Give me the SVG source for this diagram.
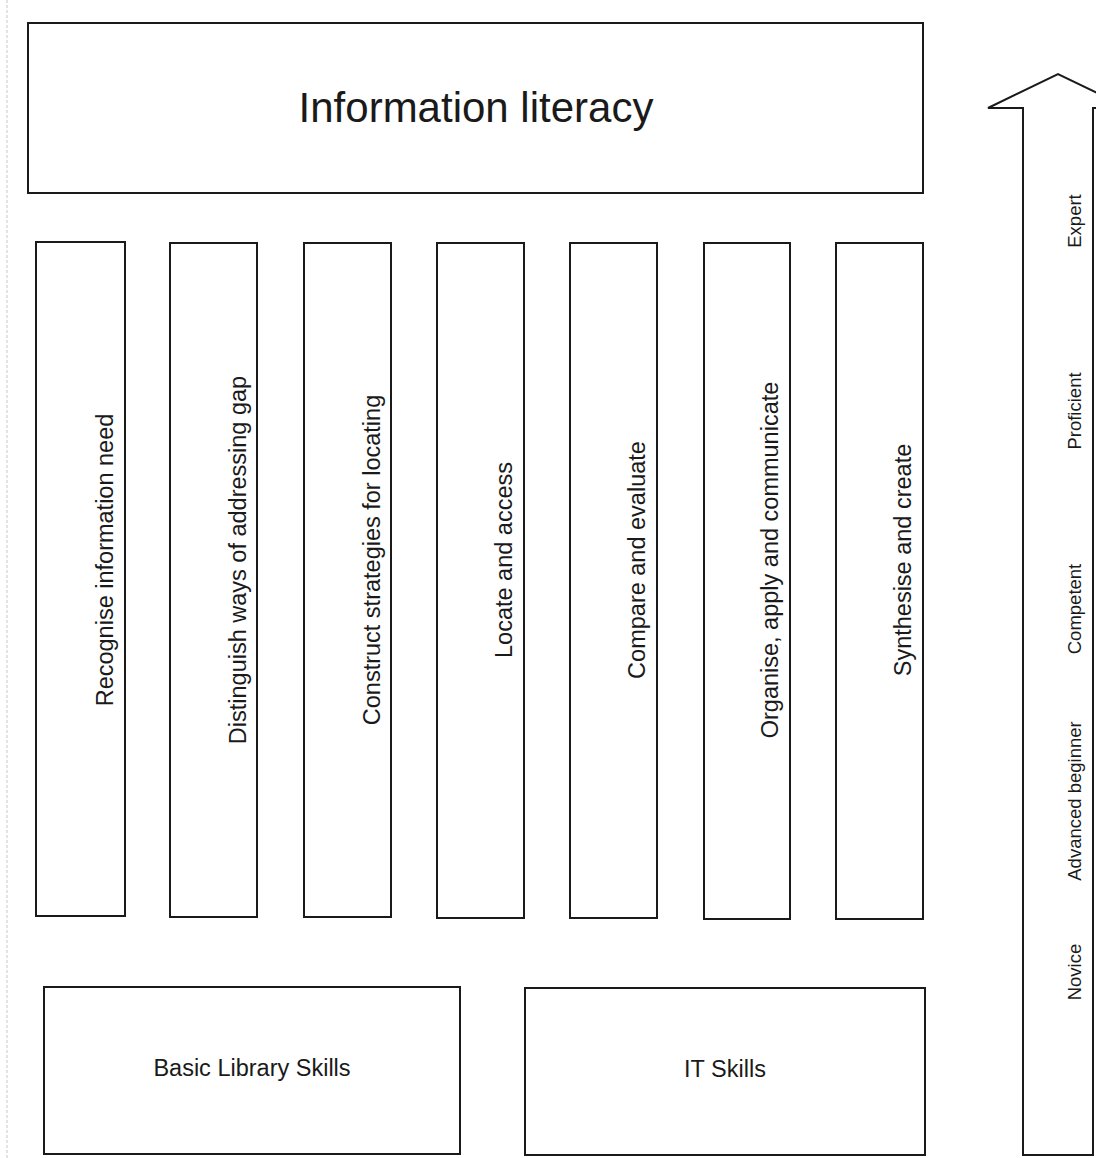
<svg xmlns="http://www.w3.org/2000/svg" width="1096" height="1158" viewBox="0 0 1096 1158">
<style>
.box{fill:#fff;stroke:#1a1a1a;stroke-width:2}
.t{font-family:"Liberation Sans",Arial,sans-serif;fill:#1a1a1a;text-anchor:middle}
.col{font-size:23.5px}
.lvl{font-size:18.5px}
</style>
<rect x="0" y="0" width="1096" height="1158" fill="#fff"/>
<line x1="7" y1="0" x2="7" y2="1158" stroke="#c8c8c8" stroke-width="1" stroke-dasharray="3,2"/>
<g id="information-literacy">
<rect class="box" x="28" y="23" width="895" height="170"/>
<text class="t" x="476" y="122" font-size="42">Information literacy</text>
</g>
<g id="col1"><rect class="box" x="36" y="242" width="89" height="674"/><text class="t col" transform="translate(113,560) rotate(-90)">Recognise information need</text></g>
<g id="col2"><rect class="box" x="170" y="243" width="87" height="674"/><text class="t col" transform="translate(246,560) rotate(-90)">Distinguish ways of addressing gap</text></g>
<g id="col3"><rect class="box" x="304" y="243" width="87" height="674"/><text class="t col" transform="translate(380,560) rotate(-90)">Construct strategies for locating</text></g>
<g id="col4"><rect class="box" x="437" y="243" width="87" height="675"/><text class="t col" transform="translate(512,560) rotate(-90)">Locate and access</text></g>
<g id="col5"><rect class="box" x="570" y="243" width="87" height="675"/><text class="t col" transform="translate(645,560) rotate(-90)">Compare and evaluate</text></g>
<g id="col6"><rect class="box" x="704" y="243" width="86" height="676"/><text class="t col" transform="translate(778,560) rotate(-90)">Organise, apply and communicate</text></g>
<g id="col7"><rect class="box" x="836" y="243" width="87" height="676"/><text class="t col" transform="translate(911,560) rotate(-90)">Synthesise and create</text></g>
<g id="basic-library-skills"><rect class="box" x="44" y="987" width="416" height="167"/><text class="t" x="252" y="1076" font-size="23.5">Basic Library Skills</text></g>
<g id="it-skills"><rect class="box" x="525" y="988" width="400" height="167"/><text class="t" x="725" y="1077" font-size="23.5">IT Skills</text></g>
<g id="connectors">
<path class="box" d="M988,108 L1058,74 L1128,108 L1093,108 L1093,1155 L1023,1155 L1023,108 Z"/>
</g>
<g id="levels">
<text class="t lvl" transform="translate(1081,221) rotate(-90)">Expert</text>
<text class="t lvl" transform="translate(1081,411) rotate(-90)">Proficient</text>
<text class="t lvl" transform="translate(1081,609) rotate(-90)">Competent</text>
<text class="t lvl" transform="translate(1081,801) rotate(-90)">Advanced beginner</text>
<text class="t lvl" transform="translate(1081,972) rotate(-90)">Novice</text>
</g>
</svg>
